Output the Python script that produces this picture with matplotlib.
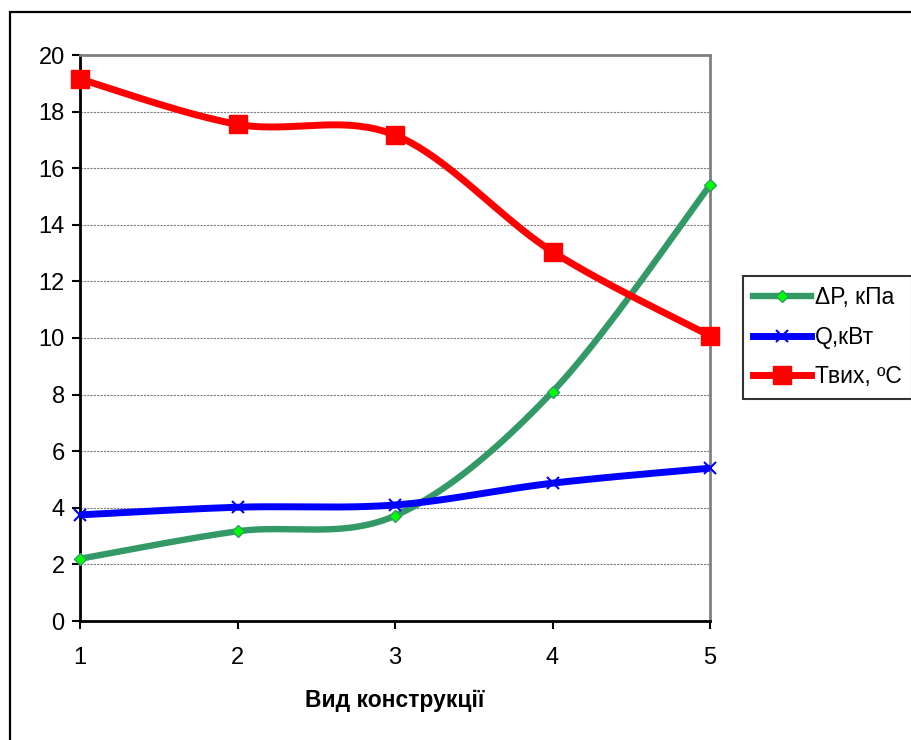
import numpy as np
import matplotlib
matplotlib.use("Agg")
import matplotlib.pyplot as plt
from matplotlib.patches import Rectangle

plt.rcParams['font.family'] = ['Liberation Sans', 'DejaVu Sans']

# data
konstr = [1, 2, 3, 4, 5]
dP_kPa = [2.2, 3.17, 3.72, 8.1, 15.4]
Q_kW = [3.75, 4.02, 4.1, 4.87, 5.4]
T_out = [19.15, 17.55, 17.17, 13.05, 10.08]


def smooth(x, y, n=40):
    # catmull-rom like curve, similar to the excel "smoothed line"
    x = np.asarray(x, float)
    y = np.asarray(y, float)
    px = np.concatenate([[x[0]], x, [x[-1]]])
    py = np.concatenate([[y[0]], y, [y[-1]]])
    xs, ys = [], []
    t = np.linspace(0, 1, n)
    for i in range(1, len(px) - 2):
        p0, p1, p2, p3 = np.array([px[i-1], py[i-1]]), np.array([px[i], py[i]]), \
            np.array([px[i+1], py[i+1]]), np.array([px[i+2], py[i+2]])
        c1 = p1 + (p2 - p0) / 6
        c2 = p2 - (p3 - p1) / 6
        pts = ((1-t)**3)[:, None]*p1 + (3*(1-t)**2*t)[:, None]*c1 + \
            (3*(1-t)*t**2)[:, None]*c2 + (t**3)[:, None]*p2
        xs.extend(pts[:, 0])
        ys.extend(pts[:, 1])
    return xs, ys


fig = plt.figure(figsize=(9.11, 7.4), dpi=100)
ax = fig.add_axes([80/911, 119/740, 630/911, 566/740])

# outer chart frame (cut off on the right and at the bottom)
fig.patches.append(Rectangle((10/911, -0.1), 1.2, 728/740 + 0.1, transform=fig.transFigure,
                             fill=False, edgecolor='black', linewidth=1.6))

series = [
    (dP_kPa, '#339966', 4.6, dict(marker='D', markersize=6.5, markerfacecolor='#00ff00',
                                  markeredgecolor='#339966', markeredgewidth=1), 'ΔP, кПа'),
    (Q_kW, '#0000ff', 5.0, dict(marker='x', markersize=8, markeredgecolor='#0000ff',
                                markeredgewidth=1.5), 'Q,кВт'),
    (T_out, '#ff0000', 5.0, dict(marker='s', markersize=13, markerfacecolor='#ff0000',
                                 markeredgecolor='#ff0000'), 'Твих, ºС'),
]
handles = []
for vals, col, lw, mk, lab in series:
    sx, sy = smooth(konstr, vals)
    ax.plot(sx, sy, color=col, linewidth=lw, solid_capstyle='round', zorder=3)
    ax.plot(konstr, vals, linestyle='none', zorder=4, clip_on=False, **mk)
    h, = ax.plot([], [], color=col, linewidth=lw, **mk)
    handles.append((h, lab))

ax.set_xlim(1, 5)
ax.set_ylim(0, 20)
ax.set_xticks(konstr)
ax.set_yticks(range(0, 21, 2))
ax.tick_params(axis='both', direction='out', length=6, width=1.5, labelsize=17)
ax.tick_params(axis='x', pad=13)
ax.tick_params(axis='y', pad=5)
ax.grid(axis='y', color='#808080', linestyle=(0, (2, 1)), linewidth=0.8)
ax.set_axisbelow(True)
for s in ['left', 'bottom']:
    ax.spines[s].set_linewidth(2)
    ax.spines[s].set_color('black')
for s in ['top', 'right']:
    ax.spines[s].set_linewidth(2)
    ax.spines[s].set_color('#808080')

ax.set_xlabel('Вид конструкції', fontsize=16.5, fontweight='bold', labelpad=14)

leg = fig.legend([h for h, _ in handles], [l for _, l in handles], loc='upper left',
                 bbox_to_anchor=(743/911, 1 - 276/740), fontsize=16.5, frameon=True,
                 fancybox=False, edgecolor='black', handlelength=2.5, borderpad=0.45,
                 borderaxespad=0, labelspacing=0.72, handletextpad=0.2)
leg.get_frame().set_linewidth(1.5)

fig.savefig('out.png', dpi=100)
